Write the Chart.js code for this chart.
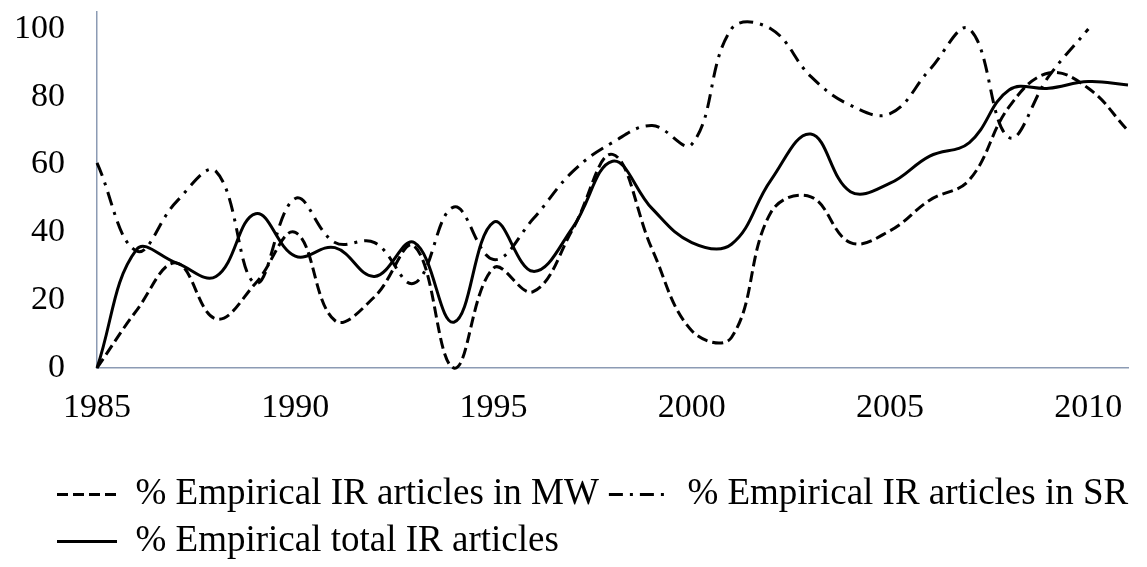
<!DOCTYPE html>
<html>
<head>
<meta charset="utf-8">
<script src="https://cdn.jsdelivr.net/npm/chart.js@4.4.1/dist/chart.umd.min.js"></script>
<style>
  body { margin: 0; background: #fff; }
  #wrap { width: 1147px; height: 567px; }
</style>
</head>
<body>
<div id="wrap"><canvas id="myChart"></canvas></div>
<script>
var years = ["1985","1986","1987","1988","1989","1990","1991","1992","1993","1994",
             "1995","1996","1997","1998","1999","2000","2001","2002","2003","2004",
             "2005","2006","2007","2008","2009","2010","2011"];

// % Empirical IR articles in MW
var mwValues = [0, 17, 31, 14.5, 25, 40, 14, 21, 36, 0,
                29.5, 22.5, 41, 63, 35, 11, 9, 46, 50.5, 37,
                40.5, 49.5, 55.5, 77, 87, 82.5, 70];

// % Empirical IR articles in SR (no value for 2011)
var srValues = [60.5, 34.5, 49, 58, 25, 50, 37, 37, 25, 47.5,
                32, 44, 58, 66.5, 71.5, 66, 100, 100, 86, 77.5,
                75, 88, 100, 68, 86, 100, null];

// % Empirical total IR articles
var totalValues = [0, 35, 31, 27, 45.5, 33, 35.5, 27, 37, 13.5,
                   43, 28.5, 41.5, 61, 47, 37, 36.5, 55.5, 69, 52,
                   54.5, 62.5, 66.5, 82, 82.5, 84.5, 83.5];

var seriesNames = ["% Empirical IR articles in MW",
                   "% Empirical IR articles in SR",
                   "% Empirical total IR articles"];

var yTicks = [0, 20, 40, 60, 80, 100];

var axisColor = "#8c9bb4";

Chart.defaults.font.family = "'Liberation Serif', 'Times New Roman', serif";
Chart.defaults.color = "#000";

// excel puts the legend rows flush left, a bit in from the edge
var legendShift = {
  id: "legendShift",
  afterLayout: function (chart) {
    chart.legend.left += 47;
    chart.legend.right += 47;
  }
};

function lineSet(label, values, dash) {
  return {
    label: label,
    data: values,
    borderColor: "#000",
    backgroundColor: "#000",
    borderWidth: 3,
    borderDash: dash,
    borderCapStyle: "butt",
    pointRadius: 0,
    tension: 0.4,
    fill: false,
    clip: false
  };
}

var myChart = new Chart("myChart", {
  type: "line",
  data: {
    labels: years,
    datasets: [
      lineSet(seriesNames[0], mwValues, [11, 5]),
      lineSet(seriesNames[1], srValues, [14, 7, 3, 7]),
      lineSet(seriesNames[2], totalValues, [])
    ]
  },
  plugins: [legendShift],
  options: {
    responsive: true,
    maintainAspectRatio: false,
    animation: false,
    layout: { padding: { top: 12, right: 19, left: 0, bottom: -3 } },
    elements: { line: { capBezierPoints: false } },
    plugins: {
      tooltip: { enabled: false },
      legend: {
        position: "bottom",
        align: "start",
        labels: {
          color: "#000",
          font: { size: 37 },
          usePointStyle: true,
          pointStyle: "line",
          pointStyleWidth: 60,
          padding: 10,
          generateLabels: function (chart) {
            var items = Chart.defaults.plugins.legend.labels.generateLabels(chart);
            // point style legend loses the dash, put it back
            items.forEach(function (item) {
              var ds = chart.data.datasets[item.datasetIndex];
              item.lineDash = ds.borderDash;
              item.lineWidth = 3;
              item.strokeStyle = "#000";
            });
            return items;
          }
        }
      }
    },
    scales: {
      x: {
        grid: { display: false, drawTicks: false },
        border: { color: axisColor, width: 1.5 },
        ticks: {
          autoSkip: false,
          maxRotation: 0,
          padding: 20,
          font: { size: 34 },
          color: "#000",
          callback: function (value, index) {
            return index % 5 === 0 ? this.getLabelForValue(value) : "";
          }
        },
        afterFit: function (scale) {
          scale.height = 98;
          scale.paddingLeft = 0;
          scale.paddingRight = 0;
        }
      },
      y: {
        min: 0,
        max: 105,
        grid: { display: false, drawTicks: false },
        border: { color: axisColor, width: 1.5 },
        ticks: { stepSize: 20, padding: 32, font: { size: 34 }, color: "#000" },
        afterBuildTicks: function (scale) {
          scale.ticks = yTicks.map(function (v) { return { value: v }; });
        },
        afterFit: function (scale) {
          scale.width = 97;
          scale.paddingTop = 0;
          scale.paddingBottom = 0;
        }
      }
    }
  }
});
</script>
</body>
</html>
